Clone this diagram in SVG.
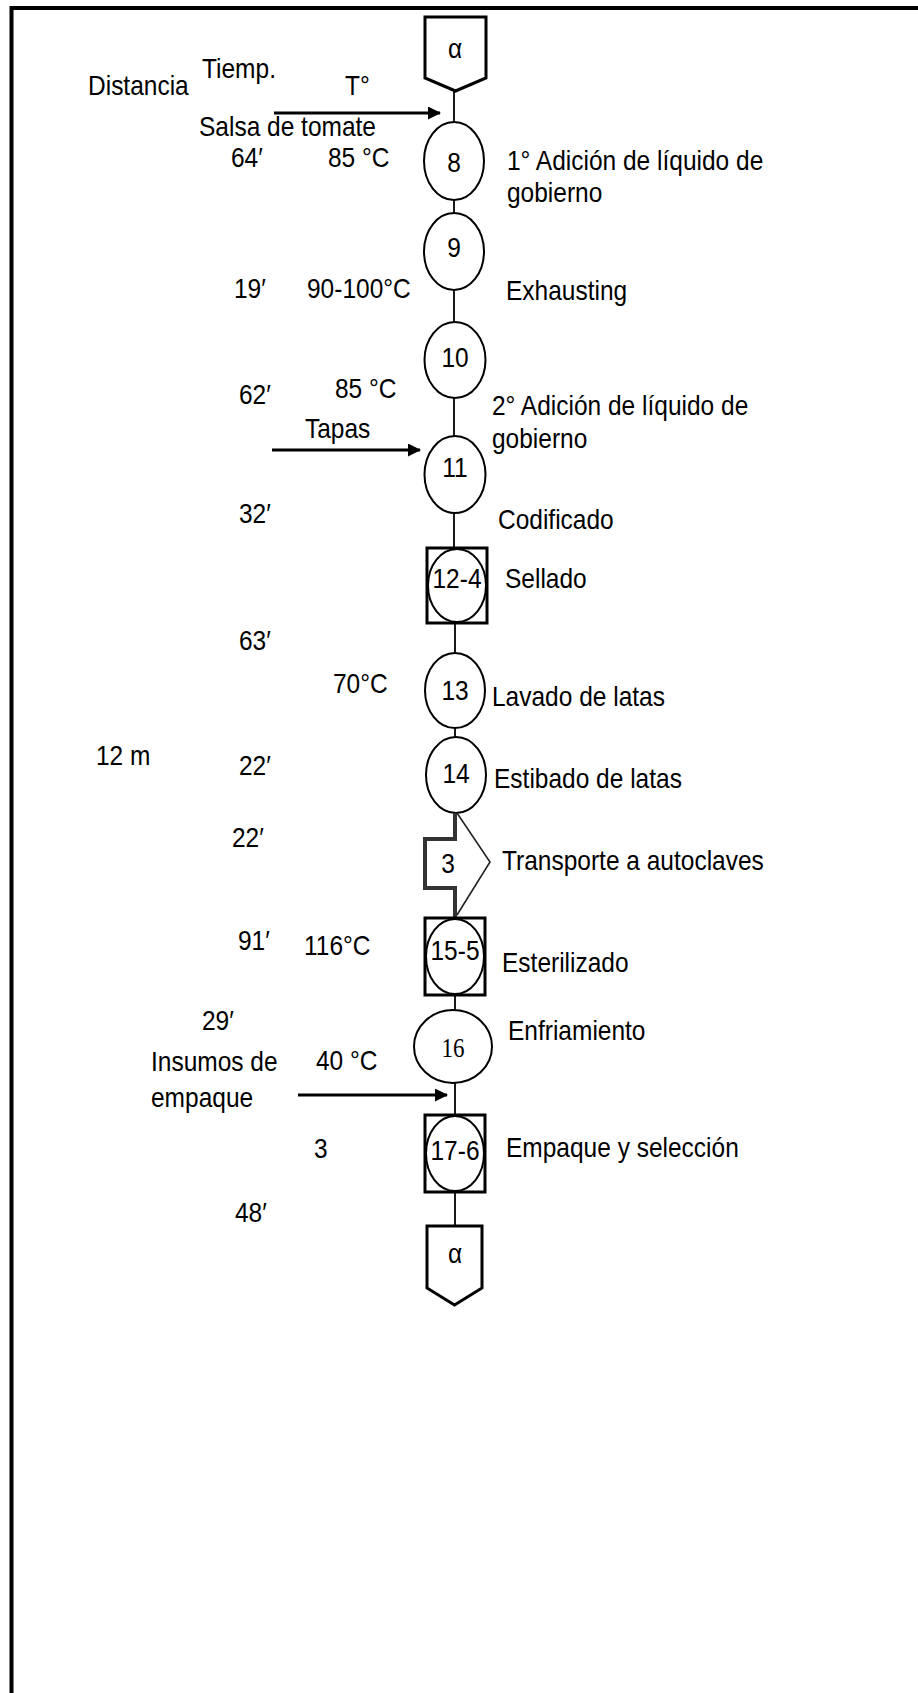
<svg xmlns="http://www.w3.org/2000/svg" width="918" height="1693" viewBox="0 0 918 1693">
<style>
text{font-family:"Liberation Sans",Arial,sans-serif;font-size:24.5px;fill:#000}
.c{text-anchor:middle}
.serif{font-family:"Liberation Serif","Times New Roman",serif;font-size:23px}
.op{fill:#fff;stroke:#000;stroke-width:2}
.box{fill:#fff;stroke:#000;stroke-width:3}
.pent{fill:#fff;stroke:#000;stroke-width:3}
.ln{stroke:#1a1a1a;stroke-width:2;fill:none}
.arr{stroke:#000;stroke-width:3;fill:none}
.frame{stroke:#000;stroke-width:4;fill:none}
</style>
<defs>
<marker id="ah" markerUnits="userSpaceOnUse" markerWidth="13" markerHeight="13" refX="12" refY="6.5" orient="auto">
<path d="M0,0 L13,6.5 L0,13 z" fill="#000"/>
</marker>
</defs>
<rect width="918" height="1693" fill="#fff"/>
<path class="frame" d="M11.5,1693 V8 H918"/>

<g id="connectors">
<line class="ln" x1="454" y1="91" x2="454" y2="122"/>
<line class="ln" x1="454" y1="200" x2="454" y2="213"/>
<line class="ln" x1="454" y1="290" x2="454" y2="322"/>
<line class="ln" x1="454" y1="398" x2="454" y2="436"/>
<line class="ln" x1="454" y1="513" x2="454" y2="548"/>
<line class="ln" x1="455" y1="623" x2="455" y2="653"/>
<line class="ln" x1="455" y1="728" x2="455" y2="737"/>
<line class="ln" x1="455" y1="995" x2="455" y2="1010"/>
<line class="ln" x1="455" y1="1083" x2="455" y2="1115"/>
<line class="ln" x1="455" y1="1192" x2="455" y2="1226"/>
<line class="arr" x1="274" y1="113" x2="440" y2="113" marker-end="url(#ah)"/>
<line class="arr" x1="272" y1="450" x2="420" y2="450" marker-end="url(#ah)"/>
<line class="arr" x1="298" y1="1095" x2="447" y2="1095" marker-end="url(#ah)"/>
</g>

<g id="n-alpha-top">
<path class="pent" d="M425,17 H486 V78 L455.5,91 L425,78 Z"/>
<text class="c" transform="translate(455 58) scale(1 1.15)">α</text>
</g>
<g id="n8">
<ellipse class="op" cx="454" cy="161" rx="30" ry="39"/>
<text class="c" transform="translate(454 172) scale(1 1.15)">8</text>
</g>
<g id="n9">
<ellipse class="op" cx="454" cy="251.5" rx="30" ry="38.5"/>
<text class="c" transform="translate(454 257) scale(1 1.15)">9</text>
</g>
<g id="n10">
<ellipse class="op" cx="455" cy="360" rx="30.5" ry="38"/>
<text class="c" transform="translate(455 367) scale(1 1.15)">10</text>
</g>
<g id="n11">
<ellipse class="op" cx="455" cy="474.5" rx="30.5" ry="38.5"/>
<text class="c" transform="translate(455 477) scale(1 1.15)">11</text>
</g>
<g id="n12-4">
<rect class="box" x="427" y="548" width="60" height="75"/>
<ellipse class="op" cx="457" cy="585.5" rx="29" ry="36.5"/>
<text class="c" transform="translate(457 588) scale(1 1.15)">12-4</text>
</g>
<g id="n13">
<ellipse class="op" cx="455" cy="690.5" rx="30" ry="37.5"/>
<text class="c" transform="translate(455 700) scale(1 1.15)">13</text>
</g>
<g id="n14">
<ellipse class="op" cx="456" cy="775" rx="30" ry="38"/>
<text class="c" transform="translate(456 783) scale(1 1.15)">14</text>
</g>
<g id="t3">
<path d="M455,813 V839 H425 V888 H455 V918" fill="none" stroke="#333" stroke-width="4"/>
<path d="M457,813 L490,862 L457,915" fill="none" stroke="#222" stroke-width="1.6"/>
<text class="c" transform="translate(448 873) scale(1 1.15)">3</text>
</g>
<g id="n15-5">
<rect class="box" x="425" y="918" width="60" height="77"/>
<ellipse class="op" cx="455" cy="956.5" rx="29" ry="37.5"/>
<text class="c" transform="translate(455 960) scale(1 1.15)">15-5</text>
</g>
<g id="n16">
<ellipse class="op" cx="453" cy="1046.5" rx="39" ry="36.5"/>
<text class="c serif" transform="translate(453 1057) scale(1 1.15)">16</text>
</g>
<g id="n17-6">
<rect class="box" x="425" y="1115" width="60" height="77"/>
<ellipse class="op" cx="455" cy="1153.5" rx="29" ry="37.5"/>
<text class="c" transform="translate(455 1160) scale(1 1.15)">17-6</text>
</g>
<g id="n-alpha-bottom">
<path class="pent" d="M427,1226 H482 V1288 L454.5,1305 L427,1288 Z"/>
<text class="c" transform="translate(455 1263) scale(1 1.15)">α</text>
</g>

<g id="labels">
<text transform="translate(88 95) scale(1 1.15)">Distancia</text>
<text transform="translate(202 78) scale(1 1.15)">Tiemp.</text>
<text transform="translate(345 95) scale(1 1.15)">T°</text>
<text transform="translate(199 136) scale(1 1.15)">Salsa de tomate</text>
<text transform="translate(231 167) scale(1 1.15)">64′</text>
<text transform="translate(328 167) scale(1 1.15)">85 °C</text>
<text transform="translate(507 170) scale(1 1.15)">1° Adición de líquido de</text>
<text transform="translate(507 202) scale(1 1.15)">gobierno</text>
<text transform="translate(234 298) scale(1 1.15)">19′</text>
<text transform="translate(307 298) scale(1 1.15)">90-100°C</text>
<text transform="translate(506 300) scale(1 1.15)">Exhausting</text>
<text transform="translate(239 404) scale(1 1.15)">62′</text>
<text transform="translate(335 398) scale(1 1.15)">85 °C</text>
<text transform="translate(492 415) scale(1 1.15)">2° Adición de líquido de</text>
<text transform="translate(492 448) scale(1 1.15)">gobierno</text>
<text transform="translate(305 438) scale(1 1.15)">Tapas</text>
<text transform="translate(239 523) scale(1 1.15)">32′</text>
<text transform="translate(498 529) scale(1 1.15)">Codificado</text>
<text transform="translate(505 588) scale(1 1.15)">Sellado</text>
<text transform="translate(239 650) scale(1 1.15)">63′</text>
<text transform="translate(333 693) scale(1 1.15)">70°C</text>
<text transform="translate(492 706) scale(1 1.15)">Lavado de latas</text>
<text transform="translate(96 765) scale(1 1.15)">12 m</text>
<text transform="translate(239 775) scale(1 1.15)">22′</text>
<text transform="translate(494 788) scale(1 1.15)">Estibado de latas</text>
<text transform="translate(232 847) scale(1 1.15)">22′</text>
<text transform="translate(502 870) scale(1 1.15)">Transporte a autoclaves</text>
<text transform="translate(238 950) scale(1 1.15)">91′</text>
<text transform="translate(304 955) scale(1 1.15)">116°C</text>
<text transform="translate(502 972) scale(1 1.15)">Esterilizado</text>
<text transform="translate(202 1030) scale(1 1.15)">29′</text>
<text transform="translate(508 1040) scale(1 1.15)">Enfriamiento</text>
<text transform="translate(151 1071) scale(1 1.15)">Insumos de</text>
<text transform="translate(316 1070) scale(1 1.15)">40 °C</text>
<text transform="translate(151 1107) scale(1 1.15)">empaque</text>
<text transform="translate(314 1158) scale(1 1.15)">3</text>
<text transform="translate(506 1157) scale(1 1.15)">Empaque y selección</text>
<text transform="translate(235 1222) scale(1 1.15)">48′</text>
</g>
</svg>
